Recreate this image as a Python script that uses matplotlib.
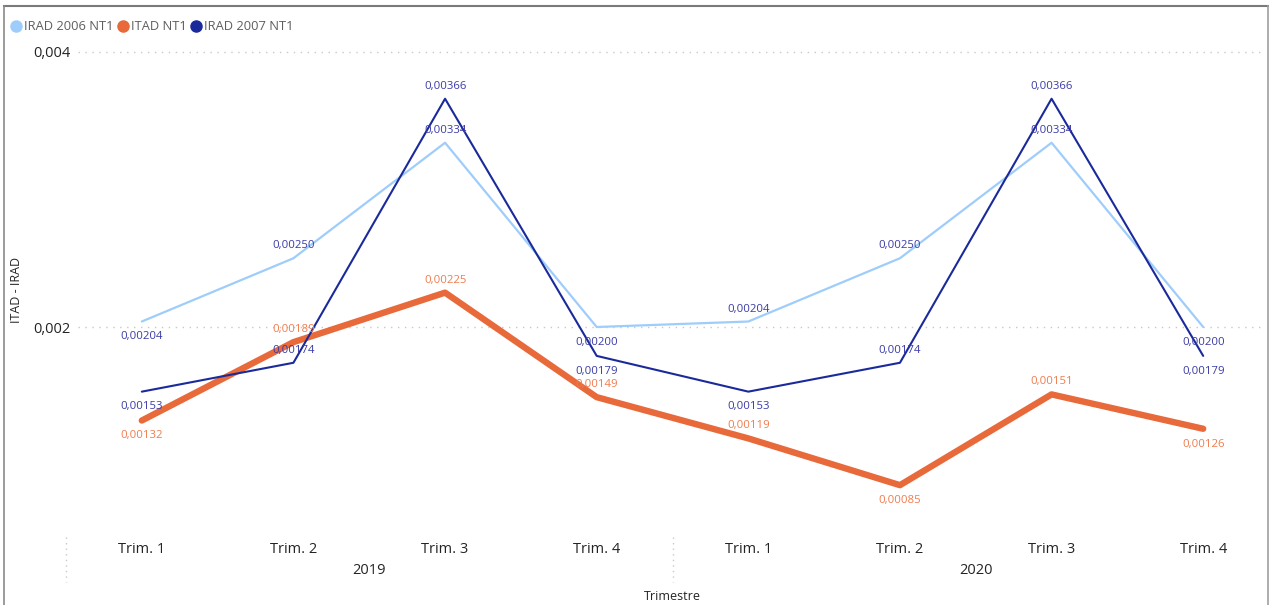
import matplotlib
matplotlib.use("Agg")
import matplotlib.pyplot as plt
from matplotlib.lines import Line2D

plt.rcParams["font.family"] = ["Open Sans", "DejaVu Sans"]

# ---- data ----
quarters = ["Trim. 1", "Trim. 2", "Trim. 3", "Trim. 4",
            "Trim. 1", "Trim. 2", "Trim. 3", "Trim. 4"]
years = ["2019", "2020"]
irad_2006 = [0.00204, 0.00250, 0.00334, 0.00200, 0.00204, 0.00250, 0.00334, 0.00200]
itad = [0.00132, 0.00189, 0.00225, 0.00149, 0.00119, 0.00085, 0.00151, 0.00126]
irad_2007 = [0.00153, 0.00174, 0.00366, 0.00179, 0.00153, 0.00174, 0.00366, 0.00179]
y_ticks = [0.002, 0.004]
y_tick_labels = ["0,002", "0,004"]

# label placement per point: 1 above, -1 below
pos_2006 = [-1, 1, 1, -1, 1, 1, 1, -1]
pos_itad = [-1, 1, 1, 1, 1, -1, 1, -1]
pos_2007 = [-1, 1, 1, -1, -1, 1, 1, -1]

c_2006 = "#9fcdfb"
c_itad = "#e8693a"
c_2007 = "#1b2a9a"
c_lab_irad = "#3b3ba6"
c_lab_itad = "#f07c4e"

W, H = 1269, 605
fig = plt.figure(figsize=(W / 100, H / 100), dpi=100)
fig.patch.set_facecolor("white")

left_px, right_px, top_px, bot_px = 66, 1264, 40, 530
ax = fig.add_axes([left_px / W, 1 - bot_px / H,
                   (right_px - left_px) / W, (bot_px - top_px) / H])
x = list(range(len(quarters)))
ax.set_xlim(-0.5, (right_px - 142) / 151.6)
ax.set_ylim(0.000524, 0.004087)

for s in ax.spines.values():
    s.set_visible(False)

# dotted horizontal gridlines
for yt in y_ticks:
    ax.axhline(yt, xmin=12 / (right_px - left_px), xmax=1, color="#c8c8c8",
               lw=1.0, ls=(0, (1, 4)), zorder=0)

ax.plot(x, irad_2006, color=c_2006, lw=1.6, zorder=2, solid_capstyle="round")
ax.plot(x, itad, color=c_itad, lw=4.6, zorder=3, solid_capstyle="round",
        solid_joinstyle="round")
ax.plot(x, irad_2007, color=c_2007, lw=1.5, zorder=4, solid_capstyle="round")


def fmt(v):
    return f"{v:.5f}".replace(".", ",")


def labels(vals, pos, color):
    for xi, v, p in zip(x, vals, pos):
        off = 9 if p > 0 else -11
        ax.annotate(fmt(v), (xi, v), xytext=(0, off), textcoords="offset points",
                    ha="center", va="center", fontsize=8.2, color=color, zorder=6)


labels(irad_2006, pos_2006, c_lab_irad)
labels(irad_2007, pos_2007, c_lab_irad)
labels(itad, pos_itad, c_lab_itad)

# axes ticks
ax.set_xticks(x)
ax.set_xticklabels(quarters, fontsize=10.5, color="#252423")
ax.set_yticks(y_ticks)
ax.set_yticklabels(y_tick_labels, fontsize=10.5, color="#252423")
ax.tick_params(axis="x", length=0, pad=8.5)
ax.tick_params(axis="y", length=0, pad=-3)

# year row and group separators
axis_h = bot_px - top_px
for i, yr in enumerate(years):
    ax.text(1.5 + 4 * i, -(571 - bot_px) / axis_h, yr, transform=ax.get_xaxis_transform(),
            ha="center", va="center", fontsize=10.5, color="#252423")
for xs in (-0.5, 3.5):
    ax.plot([xs, xs], [-(537 - bot_px) / axis_h, -(582 - bot_px) / axis_h],
            transform=ax.get_xaxis_transform(), color="#c8c8c8", lw=1.0,
            ls=(0, (1, 3)), clip_on=False)
ax.text(3.5, -(596 - bot_px) / axis_h, "Trimestre", transform=ax.get_xaxis_transform(),
        ha="center", va="center", fontsize=9, color="#252423")

fig.text(17 / W, 1 - 290 / H, "ITAD - IRAD", rotation=90, ha="center", va="center",
         fontsize=9, color="#252423")

# legend
handles = [Line2D([], [], marker="o", ls="", color=c, markersize=8)
           for c in (c_2006, c_itad, c_2007)]
fig.legend(handles, ["IRAD 2006 NT1", "ITAD NT1", "IRAD 2007 NT1"],
           loc="center left", bbox_to_anchor=(12 / W, 1 - 27 / H), ncol=3,
           frameon=False, fontsize=9.3, labelcolor="#605e5c",
           handlelength=0.6, handletextpad=0.3, columnspacing=0.45,
           borderaxespad=0, borderpad=0)

# outer frame
fig.add_artist(Line2D([4 / W, 1268 / W], [1 - 6 / H, 1 - 6 / H], transform=fig.transFigure,
                      color="#7a7a7a", lw=1.5))
fig.add_artist(Line2D([4 / W, 4 / W], [1 - 6 / H, 0], transform=fig.transFigure,
                      color="#8a8a8a", lw=1.2))
fig.add_artist(Line2D([1268 / W, 1268 / W], [1 - 6 / H, 0], transform=fig.transFigure,
                      color="#a0a0a0", lw=1.2))

fig.savefig("out.png", dpi=100)
